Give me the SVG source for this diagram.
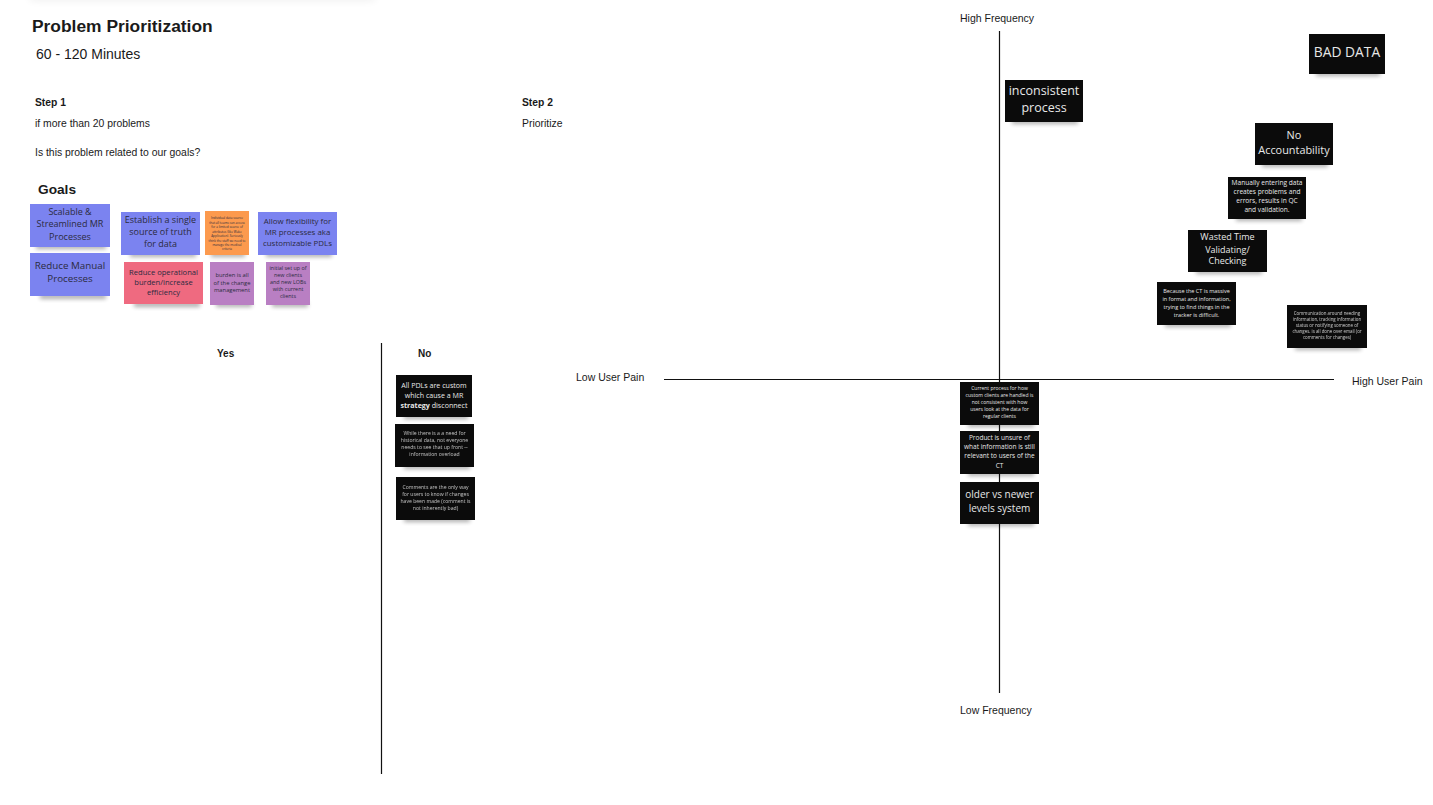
<svg xmlns="http://www.w3.org/2000/svg" width="1433" height="805" viewBox="0 0 1433 805">
<style>
text{font-family:"Liberation Sans",Arial,sans-serif;fill:#1a1a1a}
.b{font-weight:700}
.n text{font-family:"Open Sans","Noto Sans",sans-serif;text-anchor:middle}
.k text{fill:#e8e8e8}
.c text{fill:#2b2b40}
.k rect.f{fill:#0b0b0b}
.s{fill:#000;opacity:.32;filter:url(#bl)}
.l{stroke:#111;stroke-width:1.2;fill:none}
</style>
<defs><filter id="bl" x="-20%" y="-150%" width="140%" height="400%"><feGaussianBlur stdDeviation="2.200"/></filter>
<filter id="tb" x="-10%" y="-200%" width="120%" height="500%"><feGaussianBlur stdDeviation="4"/></filter></defs>
<rect width="1433" height="805" fill="#fff"/>
<rect x="30" y="-6" width="345" height="6" fill="#000" opacity=".08" filter="url(#tb)"/>
<g id="connectors">
<path class="l" d="M999.500 31V693M664 379.500H1334M381.500 343V774"/>
</g>
<g id="labels">
<text x="32" y="32" font-size="17.400" class="b">Problem Prioritization</text>
<text x="36" y="59" font-size="14">60 - 120 Minutes</text>
<text x="35" y="106" font-size="10.300" class="b">Step 1</text>
<text x="35" y="127" font-size="10.400">if more than 20 problems</text>
<text x="35" y="156" font-size="10.400">Is this problem related to our goals?</text>
<text x="38" y="194" font-size="13.700" class="b">Goals</text>
<text x="522" y="106" font-size="10.300" class="b">Step 2</text>
<text x="522" y="127" font-size="10.400">Prioritize</text>
<text x="217" y="357" font-size="10" class="b">Yes</text>
<text x="418" y="357" font-size="10" class="b">No</text>
<text x="960" y="22" font-size="10.500">High Frequency</text>
<text x="960" y="714" font-size="10.500">Low Frequency</text>
<text x="576" y="381" font-size="10.500">Low User Pain</text>
<text x="1352" y="385" font-size="10.500">High User Pain</text>
</g>
<g id="goal-scalable" class="n c"><rect class="s" x="36" y="244" width="70" height="5"/><rect x="30" y="204" width="80" height="43" fill="#7b83f0"/><text font-size="9"><tspan x="70" y="215">Scalable &amp;</tspan><tspan x="70" y="227">Streamlined MR</tspan><tspan x="70" y="240">Processes</tspan></text></g>
<g id="goal-manual" class="n c"><rect class="s" x="40" y="294" width="66" height="5"/><rect x="30" y="253" width="80" height="43" fill="#7b83f0"/><text font-size="9.800"><tspan x="70" y="269">Reduce Manual</tspan><tspan x="70" y="282">Processes</tspan></text></g>
<g id="goal-truth" class="n c"><rect class="s" x="130" y="252" width="66" height="5"/><rect x="121" y="212" width="79" height="43" fill="#7b83f0"/><text font-size="9"><tspan x="160.500" y="223">Establish a single</tspan><tspan x="160.500" y="235">source of truth</tspan><tspan x="160.500" y="247">for data</tspan></text></g>
<g id="goal-orange" class="n c"><rect class="s" x="211" y="252" width="34" height="5"/><rect x="205" y="211" width="44" height="44" fill="#fc9a4e"/><text font-size="3.100"><tspan x="227" y="219">Individual data source</tspan><tspan x="227" y="223.500">that all teams can access</tspan><tspan x="227" y="228">for a limited source of</tspan><tspan x="227" y="232.500">attributes (like Wake</tspan><tspan x="227" y="237">Application). Seriously</tspan><tspan x="227" y="241.500">think the staff we need to</tspan><tspan x="227" y="246">manage the medical</tspan><tspan x="227" y="250">criteria</tspan></text></g>
<g id="goal-flexibility" class="n c"><rect class="s" x="266" y="252" width="66" height="5"/><rect x="258" y="212" width="79" height="43" fill="#7b83f0"/><text font-size="7.900"><tspan x="297.500" y="224">Allow flexibility for</tspan><tspan x="297.500" y="235">MR processes aka</tspan><tspan x="297.500" y="246">customizable PDLs</tspan></text></g>
<g id="goal-operational" class="n c"><rect class="s" x="134" y="302" width="66" height="5"/><rect x="124" y="262" width="79" height="42" fill="#ef6a80"/><text font-size="7.600"><tspan x="163.500" y="275">Reduce operational</tspan><tspan x="163.500" y="285">burden/increase</tspan><tspan x="163.500" y="295">efficiency</tspan></text></g>
<g id="goal-burden" class="n c"><rect class="s" x="216" y="302" width="36" height="5"/><rect x="210" y="262" width="44" height="43" fill="#b97fc3"/><text font-size="5.800"><tspan x="232" y="277">burden is all</tspan><tspan x="232" y="284.500">of the change</tspan><tspan x="232" y="292">management</tspan></text></g>
<g id="goal-initial" class="n c"><rect class="s" x="272" y="302" width="36" height="5"/><rect x="266" y="262" width="44" height="43" fill="#b97fc3"/><text font-size="5.400"><tspan x="288" y="270">initial set up of</tspan><tspan x="288" y="277">new clients</tspan><tspan x="288" y="284">and new LOBs</tspan><tspan x="288" y="291">with current</tspan><tspan x="288" y="298">clients</tspan></text></g>
<g id="no-pdls" class="n k"><rect class="s" x="404" y="414" width="64" height="5"/><rect class="f" x="396" y="375" width="76" height="42"/><text font-size="7.100"><tspan x="434" y="388">All PDLs are custom</tspan><tspan x="434" y="398">which cause a MR</tspan><tspan x="434" y="408"><tspan font-weight="700">strategy</tspan> disconnect</tspan></text></g>
<g id="no-historical" class="n k"><rect class="s" x="404" y="464" width="66" height="5"/><rect class="f" x="395" y="424" width="79" height="43"/><text font-size="5.100" opacity=".8"><tspan x="434.500" y="435">While there is a a need for</tspan><tspan x="434.500" y="442">historical data, not everyone</tspan><tspan x="434.500" y="449">needs to see that up front --</tspan><tspan x="434.500" y="456">information overload</tspan></text></g>
<g id="no-comments" class="n k"><rect class="s" x="404" y="517" width="66" height="5"/><rect class="f" x="396" y="477" width="79" height="43"/><text font-size="5.100" opacity=".8"><tspan x="435.500" y="489">Comments are the only way</tspan><tspan x="435.500" y="496">for users to know if changes</tspan><tspan x="435.500" y="503">have been made (comment is</tspan><tspan x="435.500" y="510">not inherently bad)</tspan></text></g>
<g id="bad-data" class="n k"><rect class="s" x="1316" y="71" width="64" height="5"/><rect class="f" x="1309" y="34" width="76" height="40"/><text font-size="13.800"><tspan x="1347" y="57">BAD DATA</tspan></text></g>
<g id="inconsistent" class="n k"><rect class="s" x="1012" y="119" width="66" height="5"/><rect class="f" x="1005" y="80" width="78" height="42"/><text font-size="12.500"><tspan x="1044" y="95">inconsistent</tspan><tspan x="1044" y="112">process</tspan></text></g>
<g id="accountability" class="n k"><rect class="s" x="1262" y="162" width="66" height="5"/><rect class="f" x="1255" y="123" width="78" height="42"/><text font-size="10.900"><tspan x="1294" y="139">No</tspan><tspan x="1294" y="154">Accountability</tspan></text></g>
<g id="manual-data" class="n k"><rect class="s" x="1236" y="216" width="66" height="5"/><rect class="f" x="1228" y="177" width="78" height="42"/><text font-size="6.600"><tspan x="1267" y="185">Manually entering data</tspan><tspan x="1267" y="194">creates problems and</tspan><tspan x="1267" y="203">errors, results in QC</tspan><tspan x="1267" y="212">and validation.</tspan></text></g>
<g id="wasted-time" class="n k"><rect class="s" x="1196" y="269" width="66" height="5"/><rect class="f" x="1188" y="230" width="79" height="42"/><text font-size="9"><tspan x="1227.500" y="240">Wasted Time</tspan><tspan x="1227.500" y="253">Validating/</tspan><tspan x="1227.500" y="264">Checking</tspan></text></g>
<g id="ct-massive" class="n k"><rect class="s" x="1165" y="322" width="66" height="5"/><rect class="f" x="1157" y="282" width="79" height="43"/><text font-size="5.500"><tspan x="1196.500" y="293">Because the CT is massive</tspan><tspan x="1196.500" y="301">in format and information,</tspan><tspan x="1196.500" y="309">trying to find things in the</tspan><tspan x="1196.500" y="317">tracker is difficult.</tspan></text></g>
<g id="communication" class="n k"><rect class="s" x="1295" y="345" width="66" height="5"/><rect class="f" x="1287" y="305" width="80" height="43"/><text font-size="4.400" opacity=".85"><tspan x="1327" y="315">Communication around needing</tspan><tspan x="1327" y="321">information, tracking information</tspan><tspan x="1327" y="327">status or notifying someone of</tspan><tspan x="1327" y="333">changes. is all  done over email (or</tspan><tspan x="1327" y="339">comments for changes)</tspan></text></g>
<g id="custom-clients" class="n k"><rect class="s" x="968" y="422" width="66" height="5"/><rect class="f" x="960" y="382" width="79" height="43"/><text font-size="5"><tspan x="999.500" y="390">Current process for how</tspan><tspan x="999.500" y="397">custom clients are handled is</tspan><tspan x="999.500" y="404">not consistent with how</tspan><tspan x="999.500" y="411">users look at the data for</tspan><tspan x="999.500" y="418">regular clients</tspan></text></g>
<g id="product-unsure" class="n k"><rect class="s" x="968" y="471" width="66" height="5"/><rect class="f" x="960" y="431" width="79" height="43"/><text font-size="6.500"><tspan x="999.500" y="440">Product is unsure of</tspan><tspan x="999.500" y="449">what information is still</tspan><tspan x="999.500" y="458">relevant to users of the</tspan><tspan x="999.500" y="468">CT</tspan></text></g>
<g id="levels-system" class="n k"><rect class="s" x="968" y="521" width="66" height="5"/><rect class="f" x="960" y="482" width="79" height="42"/><text font-size="10"><tspan x="999.500" y="498">older vs newer</tspan><tspan x="999.500" y="512">levels system</tspan></text></g>
</svg>
